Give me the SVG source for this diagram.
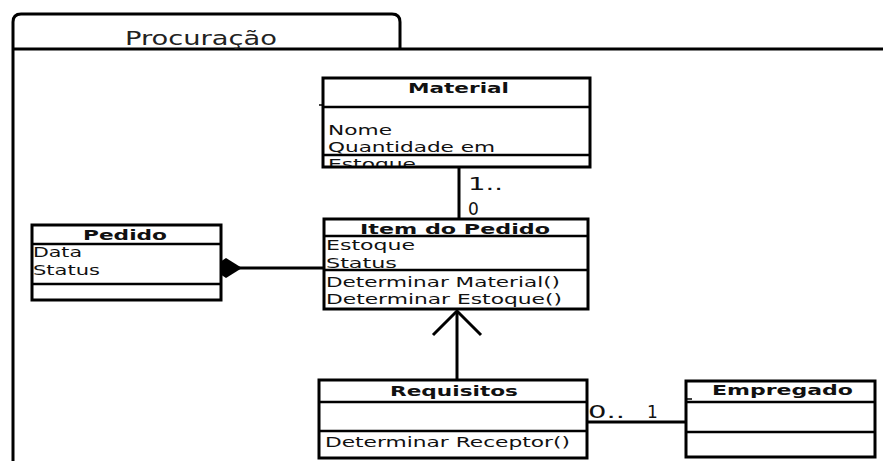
<svg xmlns="http://www.w3.org/2000/svg" width="883" height="461" viewBox="0 0 883 461">
  <style>
    .frame { fill: none; stroke: #000; stroke-width: 3; }
    .box { fill: #fff; stroke: #000; stroke-width: 3; }
    .div { stroke: #000; stroke-width: 2.5; }
    .conn { fill: none; stroke: #000; stroke-width: 3; }
    .t { font-family: "DejaVu Sans", Verdana, sans-serif; font-size: 14px; fill: #111; }
    .b { font-weight: bold; }
    .m { font-size: 17px; }
    .pkg { font-family: "DejaVu Sans", Verdana, sans-serif; font-size: 20px; fill: #222; }
  </style>
  <defs>
    <clipPath id="clipMaterialAttrs"><rect x="324" y="108" width="265" height="46"/></clipPath>
    <clipPath id="clipEstoque"><rect x="324" y="156" width="265" height="10"/></clipPath>
    <clipPath id="clipItemAttrs"><rect x="325" y="236" width="262" height="33"/></clipPath>
    <clipPath id="clipItemHead"><rect x="325" y="220" width="262" height="15"/></clipPath>
  </defs>

  <rect width="883" height="461" fill="#fff"/>

  <!-- package frame -->
  <g id="package">
    <path class="frame" d="M13,461 V22 Q13,14 21,14 H392 Q400,14 400,22 V49"/>
    <line class="frame" x1="12" y1="49" x2="883" y2="49"/>
    <text class="pkg" x="125" y="45" textLength="152" lengthAdjust="spacingAndGlyphs">Procuração</text>
  </g>

  <!-- connectors -->
  <g id="connectors">
    <!-- Material — Item do Pedido -->
    <line class="conn" x1="459" y1="167" x2="459" y2="220"/>
    <text class="t m" x="468" y="190" textLength="35" lengthAdjust="spacingAndGlyphs">1..</text>
    <text class="t m" x="468" y="215">0</text>
    <!-- Pedido (composition) — Item do Pedido -->
    <line class="conn" x1="238" y1="268" x2="325" y2="268"/>
    <polygon points="211,268 226,258 242,268 226,278" fill="#000"/>
    <!-- Requisitos — Item do Pedido (generalization) -->
    <line class="conn" x1="457" y1="380" x2="457" y2="311"/>
    <polyline class="conn" points="433,335 457,311 481,335"/>
    <!-- Requisitos — Empregado -->
    <line class="conn" x1="587" y1="422" x2="686" y2="422"/>
    <text class="t m" x="588" y="418" textLength="37" lengthAdjust="spacingAndGlyphs">0..</text>
    <text class="t m" x="647" y="418">1</text>
  </g>

  <!-- Material -->
  <g id="material">
    <rect class="box" x="323" y="78" width="267" height="89"/>
    <line class="div" x1="323" y1="107" x2="590" y2="107"/>
    <line class="div" x1="323" y1="155" x2="590" y2="155"/>
    <line stroke="#000" stroke-width="1.5" x1="319" y1="105" x2="324" y2="105"/>
    <text class="t b" x="408" y="93" textLength="101" lengthAdjust="spacingAndGlyphs">Material</text>
    <g clip-path="url(#clipMaterialAttrs)">
      <text class="t" x="328" y="135" textLength="64" lengthAdjust="spacingAndGlyphs">Nome</text>
      <text class="t" x="328" y="152" textLength="167" lengthAdjust="spacingAndGlyphs">Quantidade em</text>
    </g>
    <g clip-path="url(#clipEstoque)">
      <text class="t" x="328" y="169" textLength="88" lengthAdjust="spacingAndGlyphs">Estoque</text>
    </g>
  </g>

  <!-- Pedido -->
  <g id="pedido">
    <rect class="box" x="32" y="225" width="189" height="75"/>
    <line class="div" x1="32" y1="244" x2="221" y2="244"/>
    <line class="div" x1="32" y1="284" x2="221" y2="284"/>
    <text class="t b" x="83" y="240" textLength="84" lengthAdjust="spacingAndGlyphs">Pedido</text>
    <text class="t" x="33" y="257" textLength="49" lengthAdjust="spacingAndGlyphs">Data</text>
    <text class="t" x="33" y="275" textLength="67" lengthAdjust="spacingAndGlyphs">Status</text>
  </g>

  <!-- Item do Pedido -->
  <g id="item-do-pedido">
    <rect class="box" x="324" y="219" width="264" height="90"/>
    <line class="div" x1="324" y1="236" x2="588" y2="236"/>
    <line class="div" x1="324" y1="270" x2="588" y2="270"/>
    <g clip-path="url(#clipItemHead)">
      <text class="t b" x="360" y="234" textLength="190" lengthAdjust="spacingAndGlyphs">Item do Pedido</text>
    </g>
    <g clip-path="url(#clipItemAttrs)">
      <text class="t" x="326" y="250" textLength="89" lengthAdjust="spacingAndGlyphs">Estoque</text>
      <text class="t" x="326" y="268" textLength="71" lengthAdjust="spacingAndGlyphs">Status</text>
    </g>
    <text class="t" x="326" y="287" textLength="234" lengthAdjust="spacingAndGlyphs">Determinar Material()</text>
    <text class="t" x="326" y="304" textLength="236" lengthAdjust="spacingAndGlyphs">Determinar Estoque()</text>
  </g>

  <!-- Requisitos -->
  <g id="requisitos">
    <rect class="box" x="319" y="380" width="268" height="78"/>
    <line class="div" x1="319" y1="402" x2="587" y2="402"/>
    <line class="div" x1="319" y1="431" x2="587" y2="431"/>
    <text class="t b" x="390" y="396" textLength="128" lengthAdjust="spacingAndGlyphs">Requisitos</text>
    <text class="t" x="325" y="447" textLength="245" lengthAdjust="spacingAndGlyphs">Determinar Receptor()</text>
  </g>

  <!-- Empregado -->
  <g id="empregado">
    <rect class="box" x="686" y="381" width="189" height="76"/>
    <line class="div" x1="686" y1="402" x2="875" y2="402"/>
    <line class="div" x1="686" y1="432" x2="875" y2="432"/>
    <line stroke="#000" stroke-width="1.5" x1="686" y1="399" x2="692" y2="399"/>
    <text class="t b" x="712" y="395" textLength="141" lengthAdjust="spacingAndGlyphs">Empregado</text>
  </g>
</svg>
